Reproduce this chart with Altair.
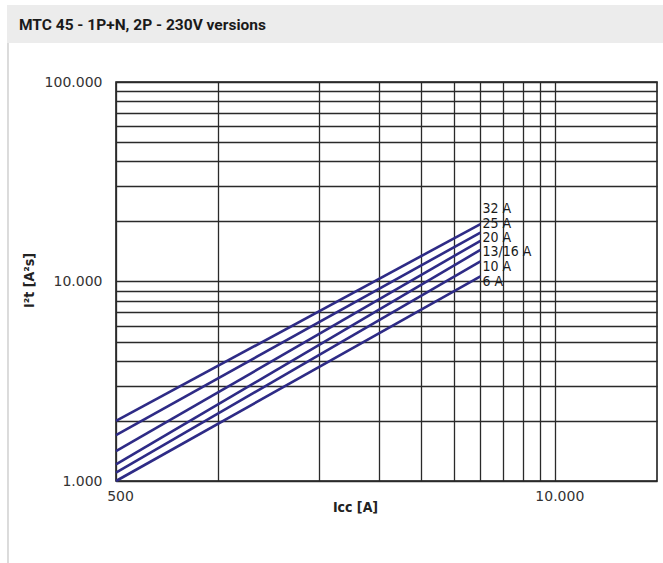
import altair as alt
import pandas as pd

# Let-through energy I²t vs. prospective short-circuit current, per rating
ratings = ["32 A", "25 A", "20 A", "13/16 A", "10 A", "6 A"]
icc_start = 500
icc_end = 6000
i2t_start = [2000, 1700, 1410, 1210, 1100, 1000]
i2t_end = [19400, 17600, 16000, 14400, 12600, 10600]
label_i2t = [23000, 19400, 16500, 14000, 11800, 10000]

x_grid = [500] + list(range(1000, 10001, 1000))
y_grid = list(range(1000, 10001, 1000)) + list(range(20000, 100001, 10000))
x_labels = [500, 10000]
y_labels = [1000, 10000, 100000]

rows = []
for r, a, b in zip(ratings, i2t_start, i2t_end):
    rows.append({"rating": r, "icc": icc_start, "i2t": a})
    rows.append({"rating": r, "icc": icc_end, "i2t": b})
curves = pd.DataFrame(rows)
labels = pd.DataFrame({"rating": ratings, "icc": [icc_end] * len(ratings), "i2t": label_i2t})

W, H = 541, 399
PAD_L, PAD_T = 116, 82
NARROW = "DejaVu Sans Condensed, Liberation Sans Narrow, Roboto, Noto Sans"
HEAD_FONT = "Roboto, DejaVu Sans Condensed, Noto Sans"
LINE_COLOR = "#2e2b86"


def dotted(values):
    cond = " || ".join(f"datum.value == {v}" for v in values)
    return f"({cond}) ? replace(format(datum.value, ','), ',', '.') : ''"


x_scale = alt.Scale(type="log", domain=[500, 20000], nice=False)
y_scale = alt.Scale(type="log", domain=[1000, 100000], nice=False)

x_enc = alt.X(
    "icc:Q",
    scale=x_scale,
    axis=alt.Axis(
        values=x_grid, labelExpr=dotted(x_labels), grid=True, gridColor="#2a2a2a",
        gridWidth=1.3, ticks=False, domain=False, labelPadding=8, labelFont="DejaVu Sans",
        labelFontSize=14, labelColor="#333333", labelOverlap=False, labelFlush=False,
        labelOffset=4,
        title="Icc [A]", titleFont=NARROW, titleFontSize=14, titleFontWeight="bold",
        titleColor="#222222", titleX=239, titleY=26, titleAlign="center",
        titleBaseline="middle",
    ),
)
y_enc = alt.Y(
    "i2t:Q",
    scale=y_scale,
    axis=alt.Axis(
        values=y_grid, labelExpr=dotted(y_labels), grid=True, gridColor="#2a2a2a",
        gridWidth=1.3, ticks=False, domain=False, labelPadding=14, labelFont="DejaVu Sans",
        labelFontSize=14, labelColor="#333333", labelOverlap=False, labelFlush=False,
        title="I²t [A²s]", titleFont=NARROW, titleFontSize=14, titleFontWeight="bold",
        titleColor="#222222", titleX=-87, titleY=198, titleAlign="center",
        titleBaseline="middle", titleAngle=270,
    ),
)

one = pd.DataFrame({"k": [0]})

band = alt.Chart(one).mark_rect(color="#ececec").encode(
    x=alt.value(-109), x2=alt.value(547), y=alt.value(-77), y2=alt.value(-39)
)
side = alt.Chart(one).mark_rule(color="#c4c4c4", strokeWidth=1.2).encode(
    x=alt.value(-108), y=alt.value(-39), y2=alt.value(481)
)
heading = alt.Chart(one).mark_text(
    text="MTC 45 - 1P+N, 2P - 230V versions", font=HEAD_FONT, fontSize=15.5,
    fontWeight="bold", color="#1a1a1a", align="left", baseline="middle",
).encode(x=alt.value(-97), y=alt.value(-57))

lines = alt.Chart(curves).mark_line(color=LINE_COLOR, strokeWidth=2.6).encode(
    x=x_enc, y=y_enc, detail="rating:N"
)
texts = alt.Chart(labels).mark_text(
    align="left", baseline="middle", dx=2, font=NARROW, fontSize=14, color="#1a1a1a"
).encode(x=alt.X("icc:Q", scale=x_scale), y=alt.Y("i2t:Q", scale=y_scale), text="rating:N")

chart = (
    alt.layer(band, side, heading, lines, texts)
    .properties(
        width=W, height=H,
        autosize=alt.AutoSizeParams(type="none"),
        padding={"left": PAD_L, "top": PAD_T, "right": 663 - PAD_L - W, "bottom": 563 - PAD_T - H},
        background="white",
    )
    .configure_view(stroke="#111111", strokeWidth=1.5)
)

chart.save("out.html", embed_options={"renderer": "svg", "actions": False})
